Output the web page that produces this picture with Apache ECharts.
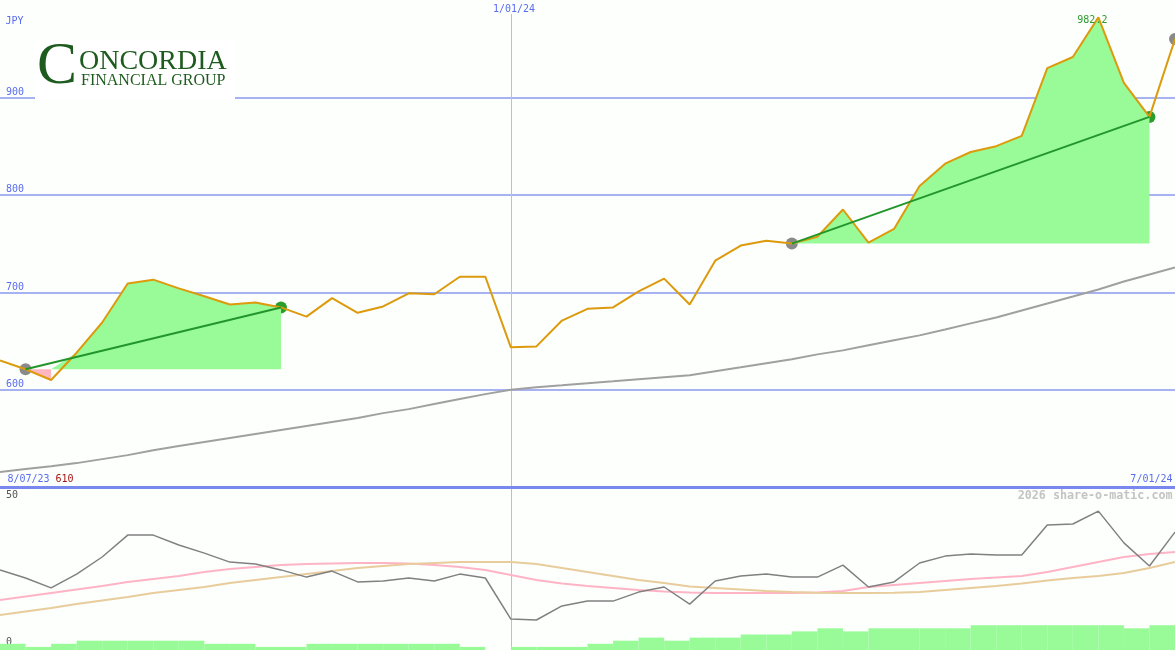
<!DOCTYPE html>
<html><head><meta charset="utf-8">
<script src="https://cdn.jsdelivr.net/npm/echarts@6/dist/echarts.min.js"></script>
<style>html,body{margin:0;padding:0;background:#fcfffc}#c{width:1175px;height:650px}</style>
</head><body><div id="c"></div>
<script>
const dates = ['8/14/23','8/21/23','8/28/23','9/04/23','9/11/23','9/18/23','9/25/23','10/02/23','10/09/23','10/16/23','10/23/23','10/30/23','11/06/23','11/13/23','11/20/23','11/27/23','12/04/23','12/11/23','12/18/23','12/25/23','1/01/24','1/08/24','1/15/24','1/22/24','1/29/24','2/05/24','2/12/24','2/19/24','2/26/24','3/04/24','3/11/24','3/18/24','3/25/24','4/01/24','4/08/24','4/15/24','4/22/24','4/29/24','5/06/24','5/13/24','5/20/24','5/27/24','6/03/24','6/10/24','6/17/24','6/24/24','7/01/24'];
const price = [630,621,610,638,669,709,713,704,696,687.5,689.6,684.5,675,694,679,685.5,699,698,716,716,643.5,644.5,671,683,684.5,701,714,687.5,732.5,748,753,750,757,785,751,765,809,832,844,850,860.5,930,941.5,982.2,915,880,960];
const longAverage = [515.5,518.6,521.6,524.7,528.8,532.9,538.0,542.2,546.3,550.4,554.5,558.6,562.7,566.8,570.9,576.0,580.1,585.3,590.4,595.5,600.0,602.6,604.6,606.7,608.7,610.8,612.8,614.8,619.0,623.0,627.1,631.2,636.3,640.4,645.6,650.7,655.8,661.9,668.1,674.2,681.4,688.6,695.7,702.9,711.1,718.3,725.5];
const oscGray = [26.7,24,20.7,25.3,31,38.3,38.3,35,32.3,29.3,28.7,26.7,24.3,26.3,22.7,23,24,23,25.3,24,10.3,10,14.7,16.3,16.3,19.3,21,15.3,23,24.7,25.3,24.3,24.3,28.3,21,22.7,29,31.3,32,31.7,31.7,41.7,42,46.3,35.7,28,39.3];
const oscPink = [16.67,17.83,19,20.17,21.33,22.67,23.67,24.67,26,27,27.67,28.33,28.67,28.83,29,29,28.83,28.33,27.67,26.67,25,23.33,22.17,21.33,20.67,20,19.5,19.17,19,19,19,19,19.17,19.67,21,21.67,22.33,23,23.67,24.17,24.67,26,27.67,29.33,31,32,32.67];
const oscTan = [11.67,12.83,14,15.33,16.5,17.67,19,20,21,22.33,23.33,24.33,25.33,26.33,27.33,28,28.67,29,29.33,29.33,29.33,28.67,27.33,26,24.67,23.33,22.33,21.17,20.67,20.17,19.67,19.33,19.1,19,19,19.1,19.33,20,20.67,21.33,22.17,23.17,24,24.67,25.67,27.33,29.33];
const volume = [2,1,2,3,3,3,3,3,2,2,1,1,2,2,2,2,2,2,1,0,1,1,1,2,3,4,3,4,4,5,5,6,7,6,7,7,7,7,8,8,8,8,8,8,7,8];
const trendSegments = [[1,11],[31,45]];
const trendStartDots = [1,31,46];
const markerDateIndex = 20;
const startLabel = '8/07/23';
const endLabel = '7/01/24';
const currency = 'JPY';

const BG = '#fcfffc';
const GREEN = '#98fb98', PINK = '#ffb6c1';
const MONO = '"DejaVu Sans Mono", "Liberation Mono", monospace';
const SERIF = '"Liberation Serif", "DejaVu Serif", serif';

function ends(arr, a, b) { return arr.map((v, i) => (i === a || i === b) ? v : null); }
// part of a segment above its starting level
function above(a, b) { const base = price[a]; return price.map((v, i) => (i >= a && i <= b) ? Math.max(v, base) : null); }
// part of a segment below its starting level
function below(a, b) {
  const base = price[a];
  return price.map((v, i) => {
    if (i < a || i > b) return null;
    if (v < base) return v;
    if (i === a) return base;
    return null;
  });
}

const series = [];
trendSegments.forEach(([a, b]) => {
  series.push({type: 'line', xAxisIndex: 0, yAxisIndex: 0, data: above(a, b), symbol: 'none', silent: true,
    lineStyle: {width: 0, color: GREEN}, areaStyle: {origin: price[a], color: GREEN, opacity: 1}});
  series.push({type: 'line', xAxisIndex: 0, yAxisIndex: 0, data: below(a, b), symbol: 'none', silent: true,
    lineStyle: {width: 0, color: PINK}, areaStyle: {origin: price[a], color: PINK, opacity: 1}});
});
series.push({type: 'line', xAxisIndex: 0, yAxisIndex: 0, data: longAverage, symbol: 'none',
  lineStyle: {color: '#a0a0a0', width: 2}});
series.push({type: 'line', xAxisIndex: 0, yAxisIndex: 0, data: price, symbol: 'none',
  lineStyle: {color: '#dc9a0c', width: 2},
  markPoint: {symbol: 'circle', symbolSize: 1, itemStyle: {color: 'rgba(0,0,0,0)'},
    data: [{type: 'max'}],
    label: {show: true, position: 'inside', offset: [-6, 3], color: '#2c9a2c', fontFamily: MONO, fontSize: 10,
      formatter: p => Number(p.value).toFixed(1)}}});
trendSegments.forEach(([a, b]) => {
  series.push({type: 'line', xAxisIndex: 0, yAxisIndex: 0, data: ends(price, a, b), connectNulls: true,
    symbol: 'none', lineStyle: {color: '#22962a', width: 2}});
});
series.push({type: 'scatter', xAxisIndex: 0, yAxisIndex: 0, symbolSize: 12,
  itemStyle: {color: '#8a8a8a', opacity: 1}, data: trendStartDots.map(i => [i, price[i]])});
series.push({type: 'scatter', xAxisIndex: 0, yAxisIndex: 0, symbolSize: 12,
  itemStyle: {color: '#2a9d2a', opacity: 1}, data: trendSegments.map(s => [s[1], price[s[1]]])});
// lower panel
series.push({type: 'bar', xAxisIndex: 2, yAxisIndex: 2, data: volume, barCategoryGap: '0%',
  itemStyle: {color: GREEN}, silent: true});
series.push({type: 'line', xAxisIndex: 1, yAxisIndex: 1, data: oscPink, symbol: 'none',
  lineStyle: {color: '#ffb4c6', width: 2}});
series.push({type: 'line', xAxisIndex: 1, yAxisIndex: 1, data: oscTan, symbol: 'none',
  lineStyle: {color: '#e8cc9c', width: 2}});
series.push({type: 'line', xAxisIndex: 1, yAxisIndex: 1, data: oscGray, symbol: 'none',
  lineStyle: {color: '#808080', width: 1.5}});

const vline = {show: true, interval: (i) => i === markerDateIndex, lineStyle: {color: '#b8bce6', width: 1}};
const minPrice = Math.min(...price);
const GL = '#a6b2f2';

const txt = (text, x, y, fill, font, align) => ({type: 'text', z: 100, silent: true,
  style: {text, x, y, fill, font, align: align || 'left', verticalAlign: 'middle'}});

const option = {
  backgroundColor: BG,
  animation: false,
  grid: [
    {left: 0, right: 0, top: -1.17, height: 488.35},
    {left: 0, right: 0, top: 488, height: 162}
  ],
  xAxis: [
    {gridIndex: 0, type: 'category', data: dates, boundaryGap: false,
      axisLine: {show: true, onZero: false, lineStyle: {color: '#7888ee', width: 3}},
      axisTick: {show: false}, axisLabel: {show: false}, splitLine: vline},
    {gridIndex: 1, type: 'category', data: dates, boundaryGap: false,
      axisLine: {show: false}, axisTick: {show: false}, axisLabel: {show: false}, splitLine: vline},
    {gridIndex: 1, type: 'category', data: dates.slice(1), boundaryGap: true, show: false}
  ],
  yAxis: [
    {gridIndex: 0, type: 'value', min: 500, max: 1000, interval: 100,
      axisLine: {show: false}, axisTick: {show: false},
      splitLine: {show: true, lineStyle: {color: [GL, GL, GL, GL, GL, 'rgba(0,0,0,0)'], width: 2}},
      axisLabel: {inside: true, margin: 6, verticalAlign: 'bottom', color: '#5a6cf0', fontFamily: MONO, fontSize: 10,
        formatter: v => (v >= 600 && v <= 900) ? String(v) : ''}},
    {gridIndex: 1, type: 'value', min: 0, max: 54, interval: 50,
      axisLine: {show: false}, axisTick: {show: false}, splitLine: {show: false},
      axisLabel: {inside: true, margin: 6, verticalAlign: 'bottom', color: '#555555', fontFamily: MONO, fontSize: 10,
        formatter: v => v === 0 ? '{z|0}' : (v === 50 ? '50' : ''),
        rich: {z: {padding: [0, 0, 3, 0], color: '#555555', fontFamily: MONO, fontSize: 10}}}},
    {gridIndex: 1, type: 'value', min: 0, max: 52.26, show: false}
  ],
  series,
  graphic: [
    {type: 'rect', z: 100, silent: true, shape: {x: 35, y: 40, width: 200, height: 60}, style: {fill: '#ffffff'}},
    txt('C', 37, 67, '#1e5b1e', 'normal 60px ' + SERIF),
    txt('ONCORDIA', 79, 62, '#1e5b1e', 'normal 28px ' + SERIF),
    txt('FINANCIAL GROUP', 81, 81, '#1e5b1e', 'normal 16px ' + SERIF),
    txt(currency, 5.5, 21, '#5a6cf0', '10px ' + MONO),
    {type: 'rect', z: 100, silent: true, shape: {x: 488, y: -2, width: 52, height: 16}, style: {fill: BG}},
    txt(dates[markerDateIndex], 514, 9, '#5a6cf0', '10px ' + MONO, 'center'),
    txt(startLabel, 7.5, 479.5, '#5a6cf0', '10px ' + MONO),
    txt(String(Math.round(minPrice)), 55.5, 479.5, '#a31515', '10px ' + MONO),
    txt(endLabel, 1172.5, 479.5, '#5a6cf0', '10px ' + MONO, 'right'),
    txt('2026 share-o-matic.com', 1172.5, 495.5, '#c4c4c4', 'bold 11.7px ' + MONO, 'right')
  ]
};
const chart = echarts.init(document.getElementById('c'));
chart.setOption(option);
</script>
</body></html>
